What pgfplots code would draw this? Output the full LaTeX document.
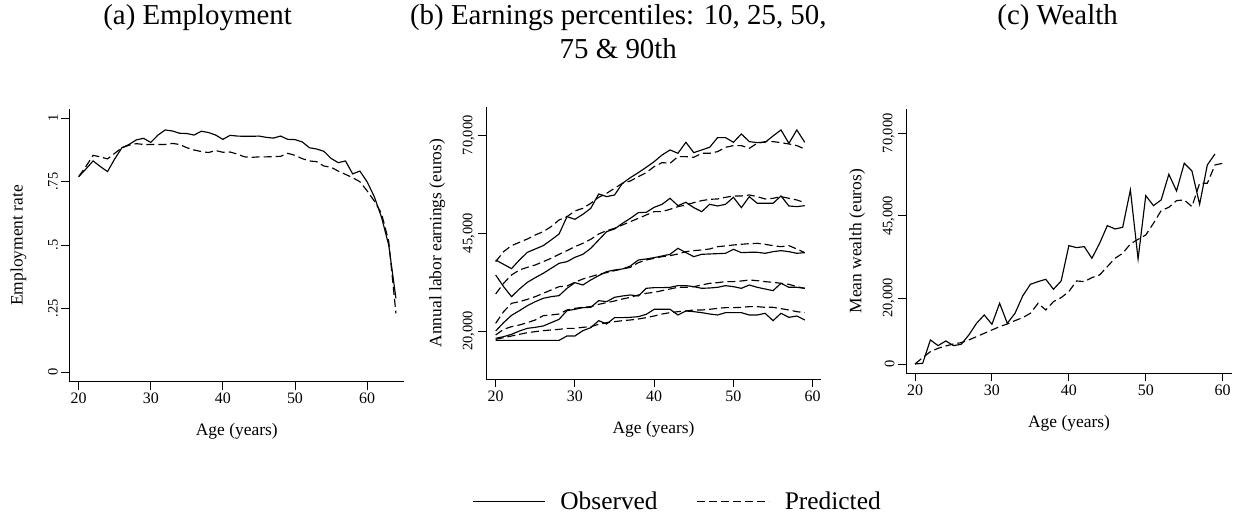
\documentclass[border=0pt]{standalone}
\usepackage{fontspec}
\setmainfont{Liberation Serif}
\usepackage{pgfplots}
\pgfplotsset{compat=1.18}
\usepackage{pgfplotstable}

\pgfplotstableread{
age obs pred
20 0.770 0.770
21 0.800 0.810
22 0.832 0.854
23 0.810 0.848
24 0.790 0.840
25 0.840 0.862
26 0.884 0.884
27 0.897 0.894
28 0.915 0.900
29 0.921 0.897
30 0.905 0.897
31 0.934 0.897
32 0.954 0.897
33 0.950 0.901
34 0.941 0.897
35 0.940 0.884
36 0.934 0.875
37 0.949 0.869
38 0.944 0.865
39 0.934 0.873
40 0.917 0.866
41 0.933 0.867
42 0.930 0.859
43 0.929 0.848
44 0.929 0.846
45 0.930 0.848
46 0.925 0.848
47 0.922 0.849
48 0.930 0.850
49 0.917 0.862
50 0.916 0.854
51 0.907 0.841
52 0.884 0.832
53 0.879 0.829
54 0.870 0.812
55 0.842 0.807
56 0.825 0.792
57 0.832 0.779
58 0.781 0.766
59 0.792 0.750
60 0.750 0.714
61 0.691 0.674
62 0.610 0.625
63 0.500 0.515
64 0.290 0.231
}\emptable

\pgfplotstableread{
age o90 p90 o75 p75 o50 p50 o25 p25 o10 p10
20 38143 37717 34310 29455 20000 21959 18126 18978 17615 17870
21 37036 40273 31329 32181 22130 24940 18552 20426 17615 18296
22 35929 41806 28773 34310 24003 27070 19148 21107 17615 18722
23 38143 42658 30733 35588 25196 27496 20000 21533 17615 19148
24 40103 43510 32436 36269 26474 28092 20681 22130 17615 19574
25 40954 44532 33629 36866 27496 28773 20937 22811 17615 19830
26 41806 45384 34736 37717 28347 29625 21278 23918 17615 20085
27 43254 46662 36014 38569 28773 30477 22130 24088 17615 20256
28 44788 48365 37291 39591 29029 31329 22981 24344 17615 20426
29 49217 49217 37717 40529 30903 31500 25196 25366 18722 20681
30 48536 50665 38825 41551 32351 32436 25537 25792 18722 20681
31 49813 51347 39591 42403 31755 33288 25963 26048 20085 20937
32 51347 52624 41125 43425 33032 33884 26048 26218 20852 21107
33 55009 54158 43254 44788 34140 34480 27752 26814 22641 21704
34 54328 55180 45384 45640 35162 34907 27496 27240 21789 22130
35 54754 56458 46066 46236 35588 35418 28603 27666 23407 22385
36 57735 57735 47514 47088 35843 35843 28944 28177 23407 22641
37 59183 58331 48791 47940 36610 36269 29199 28603 23492 22811
38 60461 59439 50239 48791 38143 37462 28944 29199 23663 23066
39 61824 60461 50324 49643 38399 38143 30903 29625 24259 23407
40 63272 61994 51602 50494 38739 38569 31073 29881 25537 23833
41 64976 63016 52368 50494 39165 38995 31073 30307 25537 24344
42 66253 62846 53902 51091 39591 39251 31159 30733 25537 24685
43 65401 64550 52027 51773 41125 39677 31585 31159 24088 24940
44 68212 64550 52879 52198 40018 40273 31585 31159 25111 25111
45 65571 64380 51517 52794 38995 40529 31329 31329 24940 25366
46 66253 65401 50494 53305 39591 40699 30903 31755 24685 25366
47 66935 65401 52368 53646 39677 40954 30988 32181 24344 25537
48 69405 65827 51943 53731 39762 41551 31159 32351 24088 25792
49 69405 66935 52368 54158 39847 41721 31585 32607 24685 25963
50 68212 67361 54158 54498 40869 41977 31329 32607 24685 25963
51 70342 67361 51517 54498 40018 42147 30903 32777 24685 26048
52 68383 66679 54328 54754 40103 42318 31755 33032 24088 26218
53 68127 67957 52624 54328 40103 42403 31159 32862 24088 26218
54 68212 68383 52624 53731 39847 42147 30733 32607 24514 26048
55 69831 68383 52624 53902 40273 41806 30307 32436 22641 26048
56 71364 68127 54498 54328 40529 41551 32181 32181 24514 25707
57 67957 67787 51943 53902 40273 41806 31159 31925 23492 25366
58 71364 67361 51773 53476 39847 40954 31159 31329 23833 24940
59 68212 66509 52027 52794 40018 40018 30903 30903 22811 24685
}\earntable

\pgfplotstableread{
age obs
20 0
21 200
22 7284
23 5564
24 6980
25 5564
26 5968
27 8801
28 12342
29 14871
30 12038
31 18411
32 12342
33 15376
34 20637
35 24177
36 24987
37 25695
38 22660
39 25189
40 35912
41 35305
42 35608
43 32068
44 36620
45 41981
46 40970
47 41476
48 52805
49 31866
50 51086
51 48051
52 49771
53 57560
54 52502
55 60898
56 58572
57 48456
58 60393
59 63731
}\wealthobs

\pgfplotstableread{
age pred
20 0
21 1922
22 3743
23 4755
24 5463
25 6070
26 6474
27 7284
28 8295
29 9307
30 10318
31 11330
32 12139
33 13151
34 14062
35 15376
36 18411
37 16388
38 18917
39 20131
40 21952
41 25189
42 24987
43 26201
44 27010
45 29539
46 32068
47 33585
48 36418
49 37834
50 39149
51 42690
52 46534
53 47546
54 49569
55 49771
56 47748
57 54829
58 54829
59 60393
60 60898
}\wealthpred

\pgfplotsset{
  panel/.style={
    scale only axis,
    axis lines*=left,
    axis line style={line width=0.9bp, -},
    tick align=outside,
    major tick length=8bp,
    every tick/.style={line width=0.9bp, black},
    xtick={20,30,40,50,60},
    scaled y ticks=false,
    /pgf/number format/assume math mode=true,
    xticklabel style={font=\fontsize{16}{19}\selectfont},
    yticklabel style={font=\fontsize{14.5}{17}\selectfont, rotate=90, anchor=south},
    label style={font=\fontsize{17.5}{21}\selectfont},
    xlabel style={at={(axis description cs:0.5,0)}, anchor=base, yshift=-54bp},
    title style={font=\fontsize{29}{34}\selectfont, align=center, anchor=base},
    clip=false,
  },
  obs/.style={black, line width=1.15bp, solid},
  pred/.style={black, line width=1.15bp, dash pattern=on 8bp off 4bp},
}

\begin{document}
\begin{tikzpicture}
\path[use as bounding box] (0,0) rectangle (1235bp,520bp);

% (a) Employment
\begin{axis}[panel,
  at={(69.3bp,138.3bp)}, anchor=south west,
  width=335bp, height=272.4bp,
  xmin=18.70, xmax=65.16, ymin=-0.0382, ymax=1.0355,
  ytick={0,0.25,0.5,0.75,1},
  yticklabels={0,.25,.5,.75,1},
  ylabel={Employment rate},
  ylabel style={at={(axis description cs:-0.152,0.5)}, anchor=center},
  xlabel={Age (years)},
  title={(a) Employment},
  title style={at={(axis description cs:0.383,1)}, yshift=79.3bp},
]
\addplot[obs] table[x=age,y=obs] {\emptable};
\addplot[pred] table[x=age,y=pred] {\emptable};
\end{axis}

% (b) Earnings
\begin{axis}[panel,
  at={(486bp,141bp)}, anchor=south west,
  width=335bp, height=271.7bp,
  xmin=18.78, xmax=61.05, ymin=7734, ymax=77155,
  ytick={20000,45000,70000},
  yticklabels={20{,}000,45{,}000,70{,}000},
  ylabel={Annual labor earnings (euros)},
  ylabel style={at={(axis description cs:-0.146,0.5)}, anchor=center},
  xlabel={Age (years)},
  title={(b) Earnings percentiles: 10, 25, 50,\\75 \& 90th},
  title style={at={(axis description cs:0.395,1)}, yshift=43.3bp},
  legend columns=2,
  legend style={draw=none, fill=none, at={(axis description cs:-0.0418,-0.4516)}, anchor=west,
    font=\fontsize{25.5}{30}\selectfont, inner sep=0pt,
    /tikz/every odd column/.append style={column sep=13bp},
    /tikz/every even column/.append style={column sep=37bp}},
  legend image code/.code={\draw[#1] (0bp,0bp) -- (72bp,0bp);},
]
\addplot[obs] table[x=age,y=o90] {\earntable};
\addlegendentry{Observed}
\addplot[pred] table[x=age,y=p90] {\earntable};
\addlegendentry{Predicted}
\addplot[obs, forget plot] table[x=age,y=o75] {\earntable};
\addplot[pred, forget plot] table[x=age,y=p75] {\earntable};
\addplot[obs, forget plot] table[x=age,y=o50] {\earntable};
\addplot[pred, forget plot] table[x=age,y=p50] {\earntable};
\addplot[obs, forget plot] table[x=age,y=o25] {\earntable};
\addplot[pred, forget plot] table[x=age,y=p25] {\earntable};
\addplot[obs, forget plot] table[x=age,y=o10] {\earntable};
\addplot[pred, forget plot] table[x=age,y=p10] {\earntable};
\end{axis}

% (c) Wealth
\begin{axis}[panel,
  at={(906bp,146.7bp)}, anchor=south west,
  width=326bp, height=264bp,
  xmin=18.83, xmax=61.21, ymin=-2832, ymax=77284,
  ytick={0,20000,45000,70000},
  yticklabels={0,20{,}000,45{,}000,70{,}000},
  ylabel={Mean wealth (euros)},
  ylabel style={at={(axis description cs:-0.150,0.5)}, anchor=center},
  xlabel={Age (years)},
  title={(c) Wealth},
  title style={at={(axis description cs:0.465,1)}, yshift=79.3bp},
]
\addplot[obs] table[x=age,y=obs] {\wealthobs};
\addplot[pred] table[x=age,y=pred] {\wealthpred};
\end{axis}
\end{tikzpicture}
\end{document}
